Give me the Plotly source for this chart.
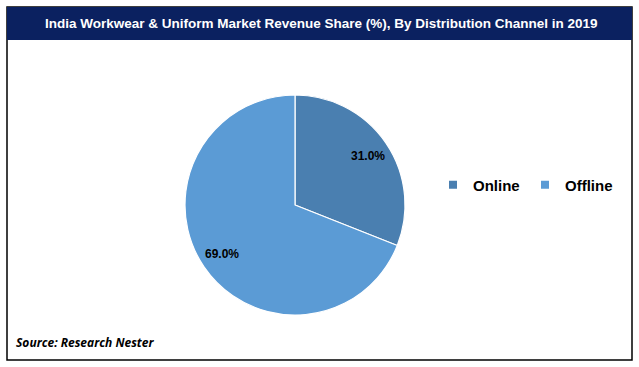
import math
import plotly.graph_objects as go

channels = ["Online", "Offline"]
shares = [31.0, 69.0]
colors = ["#4a7fb0", "#5b9bd5"]

title_text = "India Workwear & Uniform Market Revenue Share (%), By Distribution Channel in 2019"
source_text = "Source: Research Nester"

W, H = 639, 367
# pie box in pixels (from the top-left of the figure)
PX0, PX1, PY0, PY1 = 185, 405, 95, 315
CX, CY, R = (PX0 + PX1) / 2, (PY0 + PY1) / 2, (PX1 - PX0) / 2

fig = go.Figure()
fig.add_trace(go.Pie(
    labels=channels,
    values=shares,
    sort=False,
    direction="clockwise",
    rotation=0,
    marker=dict(colors=colors, line=dict(color="white", width=1.2)),
    textinfo="none",
    domain=dict(x=[PX0 / W, PX1 / W], y=[1 - PY1 / H, 1 - PY0 / H]),
    hoverinfo="label+percent",
    showlegend=False,
))

# legend entries with small square symbols
for name, col in zip(channels, colors):
    fig.add_trace(go.Scatter(
        x=[None], y=[None], mode="markers", name=name,
        marker=dict(symbol="square", size=8, color=col),
        showlegend=True, hoverinfo="skip",
    ))

# data labels placed at the middle angle of each slice
annotations = []
total = sum(shares)
cum = 0.0
for val in shares:
    mid = (cum + val / 2) / total * 2 * math.pi
    cum += val
    rf = 0.8
    lx = CX + rf * R * math.sin(mid)
    ly = CY - rf * R * math.cos(mid)
    annotations.append(dict(
        text="<b>%.1f%%</b>" % val, xref="paper", yref="paper",
        x=lx / W, y=1 - ly / H, xanchor="center", yanchor="middle",
        showarrow=False,
        font=dict(family="Arial, Liberation Sans", size=12, color="black"),
    ))

annotations += [
    dict(text="<b>" + title_text + "</b>", xref="paper", yref="paper",
         x=322 / W, y=1 - 23.5 / H, xanchor="center", yanchor="middle",
         showarrow=False,
         font=dict(family="Arial, Liberation Sans", size=13.5, color="white")),
    dict(text="<b><i>" + source_text + "</i></b>", xref="paper", yref="paper",
         x=14 / W, y=1 - 342 / H, xanchor="left", yanchor="middle",
         showarrow=False,
         font=dict(family="Open Sans", size=12, color="black")),
]

fig.update_layout(
    width=W, height=H,
    margin=dict(l=0, r=0, t=0, b=0),
    paper_bgcolor="white",
    plot_bgcolor="rgba(0,0,0,0)",
    xaxis=dict(visible=False),
    yaxis=dict(visible=False),
    showlegend=True,
    legend=dict(
        orientation="h",
        x=433 / W, y=1 - 185 / H, xanchor="left", yanchor="middle",
        font=dict(family="Arial, Liberation Sans", size=15, color="black", weight="bold"),
        bgcolor="rgba(0,0,0,0)",
        itemsizing="trace",
        entrywidth=47,
        entrywidthmode="pixels",
    ),
    shapes=[
        dict(type="rect", xref="paper", yref="paper",
             x0=7 / W, x1=632 / W, y0=1 - 360 / H, y1=1 - 7 / H,
             line=dict(color="black", width=1.5), fillcolor="rgba(0,0,0,0)"),
        dict(type="rect", xref="paper", yref="paper",
             x0=7 / W, x1=632 / W, y0=1 - 40 / H, y1=1 - 7 / H,
             line=dict(width=0), fillcolor="#0b2160", layer="above"),
    ],
    annotations=annotations,
)

fig.write_html("out.html", config={"displayModeBar": False},
               post_script="document.body.style.margin='0';")
